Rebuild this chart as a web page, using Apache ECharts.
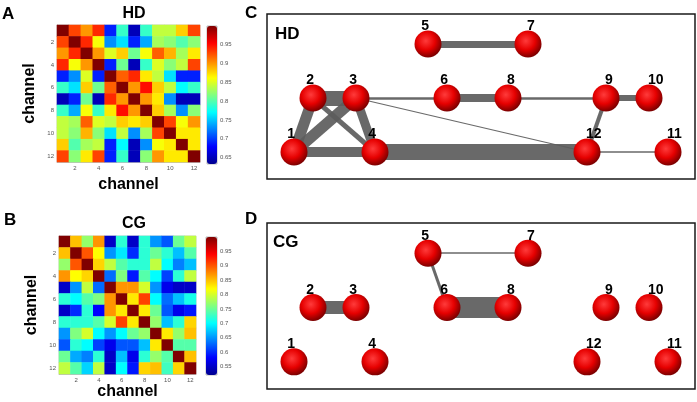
<!DOCTYPE html>
<html lang="en">
<head>
<meta charset="UTF-8">
<title>HD / CG channel networks</title>
<script src="https://cdn.jsdelivr.net/npm/echarts@6/dist/echarts.min.js"></script>
<style>
    html, body { margin: 0; padding: 0; background: #fff; }
    #main { width: 697px; height: 402px; }
</style>
</head>
<body>
<div id="main"></div>
<script type="text/javascript">
    // channel labels for the two matrices
    var channels = ['1', '2', '3', '4', '5', '6', '7', '8', '9', '10', '11', '12'];

    // correlation matrix HD (row = channel on y axis)
    var corrHD = [
        [1.00, 0.93, 0.90, 0.94, 0.69, 0.79, 0.65, 0.79, 0.84, 0.84, 0.88, 0.93],
        [0.93, 1.00, 0.94, 0.86, 0.73, 0.76, 0.69, 0.74, 0.83, 0.82, 0.80, 0.82],
        [0.90, 0.94, 1.00, 0.90, 0.85, 0.88, 0.81, 0.86, 0.92, 0.89, 0.83, 0.87],
        [0.94, 0.86, 0.90, 1.00, 0.69, 0.81, 0.65, 0.79, 0.85, 0.82, 0.84, 0.93],
        [0.69, 0.73, 0.85, 0.69, 1.00, 0.92, 0.94, 0.87, 0.84, 0.76, 0.69, 0.69],
        [0.79, 0.76, 0.88, 0.81, 0.92, 1.00, 0.90, 0.95, 0.88, 0.84, 0.77, 0.79],
        [0.65, 0.69, 0.81, 0.65, 0.94, 0.90, 1.00, 0.90, 0.87, 0.73, 0.65, 0.65],
        [0.79, 0.74, 0.86, 0.79, 0.87, 0.95, 0.90, 1.00, 0.88, 0.83, 0.73, 0.82],
        [0.84, 0.83, 0.92, 0.85, 0.84, 0.88, 0.87, 0.88, 1.00, 0.93, 0.86, 0.90],
        [0.84, 0.82, 0.89, 0.82, 0.76, 0.84, 0.73, 0.83, 0.93, 1.00, 0.87, 0.87],
        [0.88, 0.80, 0.83, 0.84, 0.69, 0.77, 0.65, 0.73, 0.86, 0.87, 1.00, 0.87],
        [0.93, 0.82, 0.87, 0.93, 0.69, 0.79, 0.65, 0.82, 0.90, 0.87, 0.87, 1.00]
    ];

    // correlation matrix CG
    var corrCG = [
        [1.00, 0.85, 0.77, 0.87, 0.55, 0.72, 0.55, 0.72, 0.65, 0.62, 0.75, 0.79],
        [0.85, 1.00, 0.90, 0.82, 0.65, 0.69, 0.60, 0.72, 0.75, 0.72, 0.67, 0.74],
        [0.77, 0.90, 1.00, 0.84, 0.79, 0.74, 0.72, 0.72, 0.79, 0.70, 0.64, 0.67],
        [0.87, 0.82, 0.84, 1.00, 0.63, 0.76, 0.59, 0.74, 0.70, 0.61, 0.72, 0.79],
        [0.55, 0.65, 0.79, 0.63, 1.00, 0.87, 0.87, 0.80, 0.65, 0.57, 0.55, 0.55],
        [0.72, 0.70, 0.74, 0.76, 0.87, 1.00, 0.83, 0.91, 0.70, 0.63, 0.67, 0.71],
        [0.55, 0.60, 0.72, 0.58, 0.87, 0.83, 1.00, 0.83, 0.75, 0.62, 0.57, 0.59],
        [0.72, 0.72, 0.72, 0.74, 0.80, 0.91, 0.83, 1.00, 0.77, 0.67, 0.72, 0.84],
        [0.65, 0.76, 0.80, 0.70, 0.65, 0.70, 0.75, 0.77, 1.00, 0.83, 0.77, 0.85],
        [0.62, 0.72, 0.70, 0.61, 0.57, 0.62, 0.62, 0.67, 0.83, 1.00, 0.74, 0.74],
        [0.75, 0.66, 0.64, 0.72, 0.55, 0.67, 0.57, 0.72, 0.77, 0.74, 1.00, 0.85],
        [0.79, 0.74, 0.68, 0.79, 0.55, 0.70, 0.59, 0.84, 0.85, 0.73, 0.84, 1.00]
    ];

    // colour scale limits of the two colorbars
    var rangeHD = [0.633, 1.0];
    var rangeCG = [0.52, 1.0];

    // network nodes: horizontal place and row (0 = bottom row)
    var nodeNames = ['1', '2', '3', '4', '5', '6', '7', '8', '9', '10', '11', '12'];
    var nodeX = [27, 46, 89, 108, 161, 180, 261, 241, 339, 382, 401, 320];
    var nodeRow = [0, 1, 1, 0, 2, 1, 2, 1, 1, 1, 0, 0];

    // edges: [from, to, strength]
    var edgesHD = [
        [5, 7, 7], [2, 3, 15], [1, 2, 11], [1, 3, 11], [1, 4, 10], [2, 4, 5],
        [3, 4, 9], [4, 12, 16], [3, 6, 2.5], [6, 8, 8], [8, 9, 2.5], [9, 10, 6],
        [9, 12, 4], [3, 12, 1.2], [12, 11, 1.5]
    ];
    var edgesCG = [
        [5, 7, 1.5], [5, 6, 3], [2, 3, 13], [6, 8, 21]
    ];

    var jet = ['#00008f', '#0000ff', '#0080ff', '#00ffff', '#80ff80',
               '#ffff00', '#ff8000', '#ff0000', '#800000'];
    var labelRight = ['7', '8', '9', '10', '11', '12'];
    var bold = 'Liberation Sans';

    function cells(m) {
        var out = [];
        for (var r = 0; r < m.length; r++) {
            for (var c = 0; c < m[r].length; c++) {
                out.push([c, r, m[r][c]]);
            }
        }
        return out;
    }

    function nodes() {
        return nodeNames.map(function (n, i) {
            var right = labelRight.indexOf(n) >= 0;
            return {
                name: n,
                value: [nodeX[i], nodeRow[i]],
                label: { align: right ? 'left' : 'right', offset: [right ? -1 : 1, 3] }
            };
        });
    }

    function links(list) {
        return list.map(function (e) {
            return { source: e[0] - 1, target: e[1] - 1, lineStyle: { width: e[2] } };
        });
    }

    var everyOther = function (i) { return i % 2 === 1; };

    function matrixAxes(gi, nameGapX, nameGapY) {
        var common = {
            type: 'category',
            data: channels,
            gridIndex: gi,
            nameLocation: 'middle',
            nameTextStyle: { fontFamily: bold, fontWeight: 'bold', fontSize: 16, color: '#000' },
            axisLine: { show: true, lineStyle: { color: '#999', width: 0.5 } },
            axisTick: { show: true, inside: true, length: 2, interval: everyOther, alignWithLabel: true,
                        lineStyle: { color: '#555' } },
            axisLabel: { interval: everyOther, fontSize: 6, color: '#555', margin: 3 },
            splitLine: { show: false }
        };
        return {
            x: Object.assign({}, common, { name: 'channel', nameGap: nameGapX }),
            y: Object.assign({}, common, { name: 'channel', nameGap: nameGapY, inverse: true })
        };
    }

    var axA = matrixAxes(0, 15, 19);
    var axB = matrixAxes(1, 8, 19);

    function barAxes(gi, range, split) {
        return {
            x: { type: 'category', data: [''], gridIndex: gi, show: false },
            y: {
                type: 'value', gridIndex: gi, min: range[0], max: range[1], splitNumber: split,
                position: 'right',
                axisLine: { show: false },
                axisTick: { show: true, inside: true, length: 2, lineStyle: { color: '#333' } },
                axisLabel: { fontSize: 6, color: '#555', margin: 3, showMinLabel: false, showMaxLabel: false },
                splitLine: { show: false }
            }
        };
    }
    var cbA = barAxes(2, rangeHD, 7);
    var cbB = barAxes(3, rangeCG, 10);

    function netAxes(gi) {
        return {
            x: { type: 'value', gridIndex: gi, min: 0, max: 428, show: false },
            y: { type: 'value', gridIndex: gi, min: -0.5, max: 2.556, show: false }
        };
    }
    var nC = netAxes(4);
    var nD = netAxes(5);

    function title(text, x, y, size, align) {
        return {
            text: text, left: x, top: y, padding: 0, textAlign: align || 'left',
            textStyle: { fontFamily: bold, fontWeight: 'bold', fontSize: size, color: '#000' }
        };
    }

    function network(xi, edges) {
        return {
            type: 'graph',
            layout: 'none',
            coordinateSystem: 'cartesian2d',
            xAxisIndex: xi,
            yAxisIndex: xi,
            silent: true,
            symbol: 'circle',
            symbolSize: 27,
            itemStyle: {
                color: {
                    type: 'radial', x: 0.42, y: 0.38, r: 0.62,
                    colorStops: [
                        { offset: 0, color: '#ff3b3b' },
                        { offset: 0.55, color: '#e60000' },
                        { offset: 1, color: '#7c0000' }
                    ]
                }
            },
            label: {
                show: true, position: 'top', distance: 0,
                fontFamily: bold, fontWeight: 'bold', fontSize: 14, color: '#000'
            },
            lineStyle: { color: '#5c5c5c', opacity: 0.92, curveness: 0 },
            data: nodes(),
            links: links(edges)
        };
    }

    var myChart = echarts.init(document.getElementById('main'), null, { renderer: 'canvas' });
    var option = {
        animation: false,
        backgroundColor: '#fff',
        title: [
            title('A', 2, 6, 17),
            title('B', 4, 212, 17),
            title('C', 245, 5, 17),
            title('D', 245, 211, 17),
            title('HD', 134, 6, 16, 'center'),
            title('CG', 134, 216, 16, 'center'),
            title('HD', 275, 26, 17),
            title('CG', 273, 234, 17)
        ],
        grid: [
            { left: 57, top: 25, width: 143, height: 137, show: true, borderColor: '#999', borderWidth: 0.5 },
            { left: 59, top: 236, width: 137, height: 138, show: true, borderColor: '#999', borderWidth: 0.5 },
            { left: 207, top: 26, width: 10, height: 138, show: true, borderColor: '#777', borderWidth: 0.5 },
            { left: 206, top: 237, width: 11, height: 138, show: true, borderColor: '#777', borderWidth: 0.5 },
            { left: 267, top: 14, width: 428, height: 165, show: true, borderColor: '#1a1a1a', borderWidth: 1.5 },
            { left: 267, top: 223, width: 428, height: 166, show: true, borderColor: '#1a1a1a', borderWidth: 1.5 }
        ],
        xAxis: [axA.x, axB.x, cbA.x, cbB.x, nC.x, nD.x],
        yAxis: [axA.y, axB.y, cbA.y, cbB.y, nC.y, nD.y],
        visualMap: [
            {
                type: 'continuous', seriesIndex: 0, min: rangeHD[0], max: rangeHD[1],
                inRange: { color: jet }, calculable: false, hoverLink: false, padding: 0,
                left: 207, top: 26, itemWidth: 10, itemHeight: 138
            },
            {
                type: 'continuous', seriesIndex: 1, min: rangeCG[0], max: rangeCG[1],
                inRange: { color: jet }, calculable: false, hoverLink: false, padding: 0,
                left: 206, top: 237, itemWidth: 11, itemHeight: 138
            }
        ],
        series: [
            { type: 'heatmap', xAxisIndex: 0, yAxisIndex: 0, data: cells(corrHD), silent: true },
            { type: 'heatmap', xAxisIndex: 1, yAxisIndex: 1, data: cells(corrCG), silent: true },
            network(4, edgesHD),
            network(5, edgesCG)
        ]
    };
    myChart.setOption(option);
</script>
</body>
</html>
